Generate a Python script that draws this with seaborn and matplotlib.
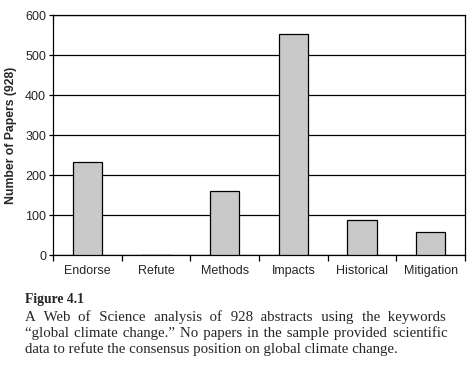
import matplotlib
matplotlib.use("Agg")
import matplotlib.pyplot as plt
import seaborn as sns
import pandas as pd

categories = ["Endorse", "Refute", "Methods", "Impacts", "Historical", "Mitigation"]
papers = [232, 0, 159, 552, 87, 57]
yticks = [0, 100, 200, 300, 400, 500, 600]
ylabel = "Number of Papers (928)"
caption_title = "Figure 4.1"
caption_lines = [
    "A Web of Science analysis of 928 abstracts using the keywords",
    "\u201cglobal climate change.\u201d No papers in the sample provided scientific",
    "data to refute the consensus position on global climate change.",
]

sns.set_style("white")
plt.rcParams["font.family"] = ["Liberation Sans", "DejaVu Sans"]

df = pd.DataFrame({"category": categories, "papers": papers})

fig = plt.figure(figsize=(4.74, 3.66), dpi=100)
ax = fig.add_axes([53 / 474, 1 - 255 / 366, 412 / 474, 240 / 366])

sns.barplot(data=df, x="category", y="papers", color="#c9c9c9", width=0.43,
            edgecolor="black", linewidth=0.9, saturation=1, ax=ax, zorder=3)

ax.set_ylim(0, 600)
ax.set_xlim(-0.5, len(categories) - 0.5)
ax.set_yticks(yticks)
ax.yaxis.grid(True, color="black", linewidth=0.9, zorder=0)
ax.set_axisbelow(True)
for s in ax.spines.values():
    s.set_visible(True)
    s.set_color("black")
    s.set_linewidth(0.9)

ax.set_xlabel("")
ax.set_ylabel(ylabel, fontsize=8.8, fontweight="bold", labelpad=6)
ax.tick_params(axis="y", which="major", direction="out", length=3, width=0.9,
               labelsize=9, left=True, pad=2, color="black")
ax.tick_params(axis="x", which="major", length=0, labelsize=9, pad=7)
ax.set_xticks([i + 0.5 for i in range(-1, len(categories))], minor=True)
ax.tick_params(axis="x", which="minor", direction="out", length=4, width=0.9,
               bottom=True, color="black")

# caption
serif = ["Liberation Serif", "DejaVu Serif"]
body_size = 10.7
fig.text(25 / 474, 1 - 303.5 / 366, caption_title, fontsize=9.8, fontweight="bold",
         family=serif, va="baseline", ha="left")

fig.canvas.draw()
renderer = fig.canvas.get_renderer()


def width_of(s):
    t = fig.text(0, 0, s, fontsize=body_size, family=serif)
    w = t.get_window_extent(renderer).width
    t.remove()
    return w


HAIR = "\u200a"
w_aa = width_of("aa")
w_space = width_of("a a") - w_aa
w_hair = max(width_of("a" + HAIR + "a") - w_aa, 0.3)

x_left, x_right = 25, 447
line_y = [320.5, 337, 353.5]
for li, (line, yy) in enumerate(zip(caption_lines, line_y)):
    words = line.split(" ")
    justify = li < len(caption_lines) - 1
    if justify:
        widths = [width_of(w) for w in words]
        gap = (x_right - x_left - sum(widths)) / (len(words) - 1)
        s = words[0]
        target = widths[0]
        actual = widths[0]
        for w, wd in zip(words[1:], widths[1:]):
            target += gap
            n = max(0, round((target - actual - w_space) / w_hair))
            s += " " + HAIR * n
            actual += w_space + n * w_hair
            s += w
            target += wd
            actual += wd
        text = s
    else:
        text = line
    fig.text(x_left / 474, 1 - yy / 366, text, fontsize=body_size, family=serif,
             va="baseline", ha="left")

fig.savefig("out.png", dpi=100)
